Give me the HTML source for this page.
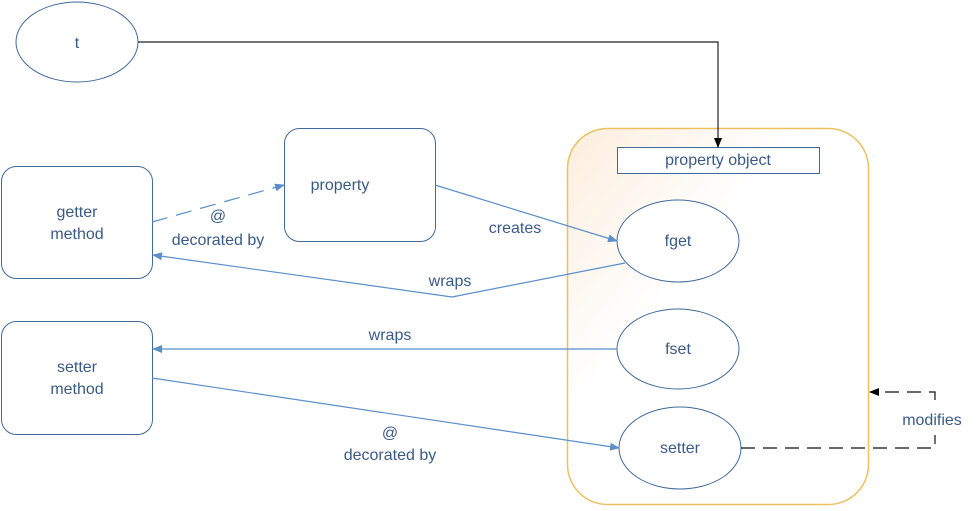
<!DOCTYPE html>
<html><head><meta charset="utf-8"><style>
body{margin:0;background:#fff;width:979px;height:506px;overflow:hidden}
text{font-family:"Liberation Sans",sans-serif;font-size:16px;fill:#3a5a86;text-anchor:middle}
</style></head><body>
<svg width="979" height="506" xmlns="http://www.w3.org/2000/svg">
<defs>
<linearGradient id="g" x1="0" y1="0" x2="0.7" y2="0.7">
<stop offset="0" stop-color="#fdeedd"/><stop offset="0.55" stop-color="#fff"/></linearGradient>
<marker id="ab" markerWidth="10" markerHeight="8" refX="9" refY="4" orient="auto" markerUnits="userSpaceOnUse"><path d="M0,0 L10,4 L0,8 z" fill="#5b8fc9"/></marker>
<marker id="ak" markerWidth="10" markerHeight="8" refX="9" refY="4" orient="auto" markerUnits="userSpaceOnUse"><path d="M0,0 L10,4 L0,8 z" fill="#000"/></marker>
</defs>
<rect x="567.5" y="128.5" width="301" height="376" rx="40" fill="url(#g)" stroke="#eac060" stroke-width="1.5"/>
<g fill="#fff" stroke="#41699a" stroke-width="1">
<ellipse cx="77" cy="42" rx="61" ry="40"/>
<rect x="1.5" y="166.5" width="151" height="112" rx="15"/>
<rect x="284.5" y="128.5" width="151" height="113" rx="15"/>
<rect x="1.5" y="321.5" width="151" height="113" rx="15"/>
<rect x="617.5" y="147.5" width="202" height="26" fill="#fff"/>
<ellipse cx="678" cy="241" rx="61" ry="41"/>
<ellipse cx="678" cy="349" rx="61" ry="40"/>
<ellipse cx="680" cy="448" rx="61" ry="41"/>
</g>
<g fill="none" stroke-width="1.2">
<path d="M138,42 H718 V147" stroke="#222" marker-end="url(#ak)"/>
<path d="M152,222 L284,185" stroke="#5b8fc9" stroke-dasharray="16,9" marker-end="url(#ab)"/>
<path d="M435,185 L617,241" stroke="#5b8fc9" marker-end="url(#ab)"/>
<path d="M625,263 L452,297 L153,255" stroke="#5b8fc9" marker-end="url(#ab)"/>
<path d="M617,349 L153,349" stroke="#5b8fc9" marker-end="url(#ab)"/>
<path d="M152,378 L619,448" stroke="#5b8fc9" marker-end="url(#ab)"/>
<path d="M741,448 H935 V392 H870" stroke="#111" stroke-dasharray="14,8" marker-end="url(#ak)"/>
</g>
<rect x="895" y="403" width="75" height="32" fill="#fff"/>
<text x="77" y="48">t</text>
<text x="77" y="217">getter</text><text x="77" y="239">method</text>
<text x="340" y="190">property</text>
<text x="77" y="372">setter</text><text x="77" y="394">method</text>
<text x="718" y="165">property object</text>
<text x="678" y="246">fget</text>
<text x="678" y="354">fset</text>
<text x="680" y="453">setter</text>
<text x="218" y="221">@</text><text x="218" y="245">decorated by</text>
<text x="515" y="233">creates</text>
<text x="450" y="286">wraps</text>
<text x="390" y="340">wraps</text>
<text x="390" y="438">@</text><text x="390" y="460">decorated by</text>
<text x="932" y="425">modifies</text>
</svg>
</body></html>
